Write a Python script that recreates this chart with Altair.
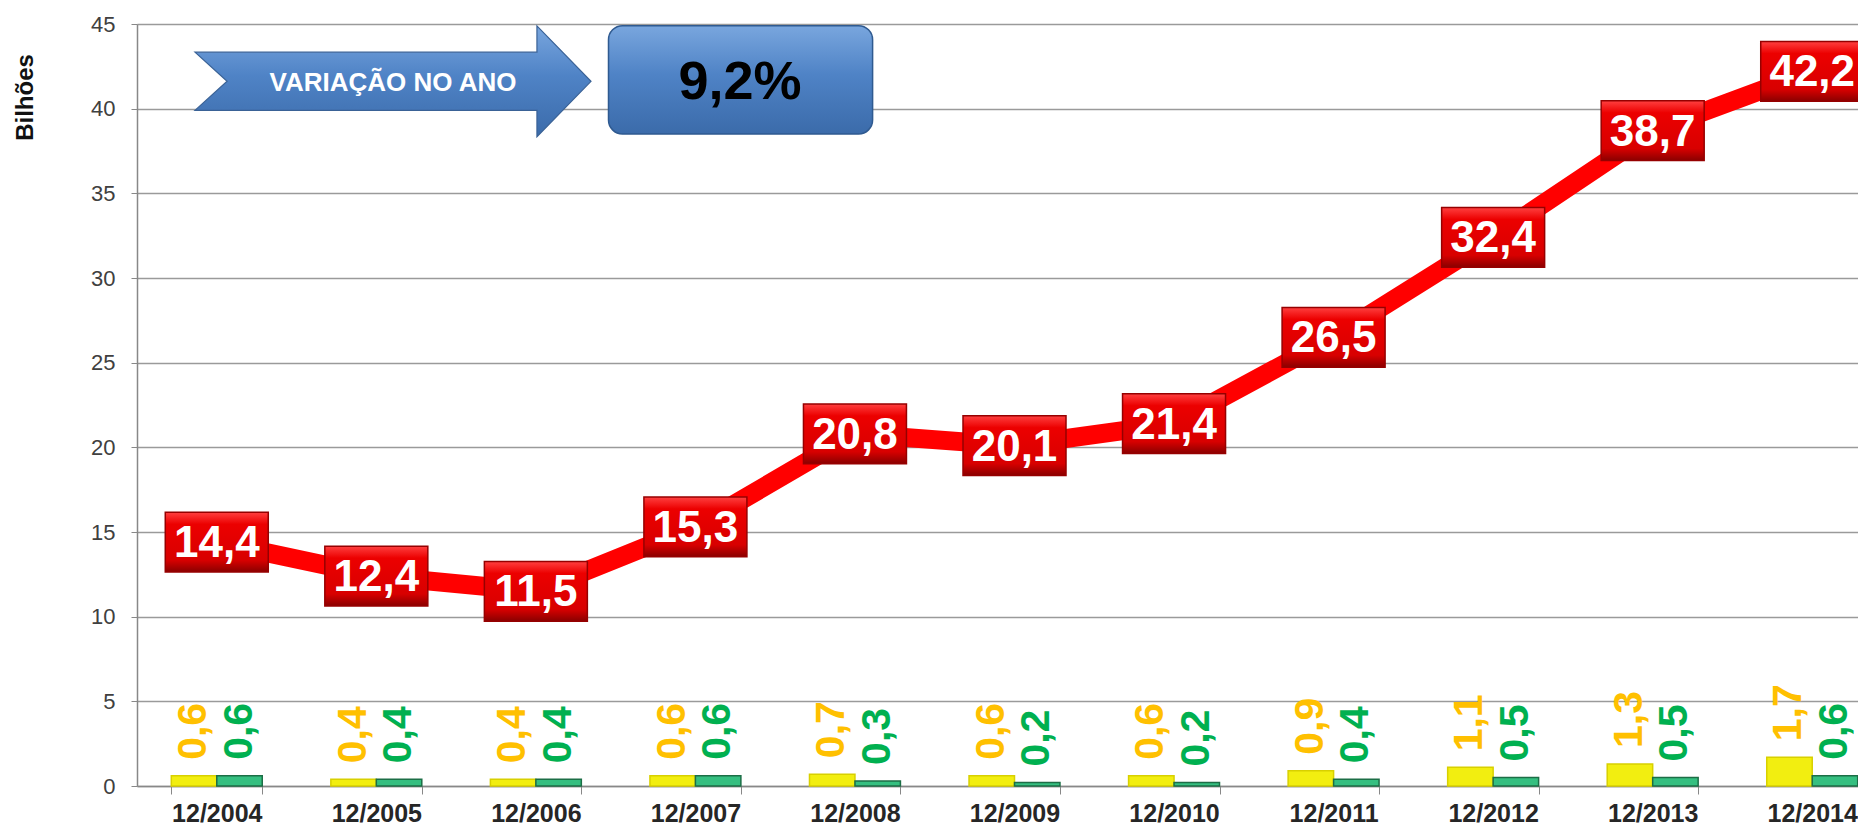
import altair as alt
import pandas as pd

# ---- data ----
categorias = ["12/2004", "12/2005", "12/2006", "12/2007", "12/2008", "12/2009",
              "12/2010", "12/2011", "12/2012", "12/2013", "12/2014"]
total = [14.4, 12.4, 11.5, 15.3, 20.8, 20.1, 21.4, 26.5, 32.4, 38.7, 42.2]
amarelo = [0.6, 0.4, 0.4, 0.6, 0.7, 0.6, 0.6, 0.9, 1.1, 1.3, 1.7]
verde = [0.6, 0.4, 0.4, 0.6, 0.3, 0.2, 0.2, 0.4, 0.5, 0.5, 0.6]
y_ticks = [0, 5, 10, 15, 20, 25, 30, 35, 40, 45]
seta_texto = ["VARIAÇÃO NO ANO"]
caixa_texto = ["9,2%"]

def br(v):
    return f"{v:.1f}".replace(".", ",")

df_line = pd.DataFrame({"cat": categorias, "v": total, "lbl": [br(v) for v in total]})
rows = []
for c, a, g in zip(categorias, amarelo, verde):
    rows.append({"cat": c, "serie": "a", "v": a, "lbl": br(a)})
    rows.append({"cat": c, "serie": "b", "v": g, "lbl": br(g)})
df_bar = pd.DataFrame(rows)

FONT = "Liberation Sans"
W, H = 1721, 762

xscale = alt.Scale(domain=categorias, range=[0, 1755], paddingInner=0.43, paddingOuter=0.215)
yscale = alt.Scale(domain=[0, 45], nice=False)

x_axis = alt.Axis(title=None, labelAngle=0, labelFontSize=25, labelFontWeight="bold",
                  labelColor="#262626", labelFont=FONT, tickBand="extent", tickSize=8,
                  tickColor="#888888", domainColor="#888888", domainWidth=1.5,
                  labelPadding=7, grid=False)
y_axis = alt.Axis(values=y_ticks, title="Bilhões", titleFontSize=24, titleFontWeight="bold",
                  titleFont=FONT, titleColor="#111111", titleAngle=270, titleX=-112, titleY=73,
                  titleAlign="center", titleBaseline="middle", labelFontSize=22,
                  labelColor="#404040", labelFont=FONT, tickSize=6, tickColor="#888888",
                  domainColor="#888888", domainWidth=1.5, gridColor="#9a9a9a",
                  gridWidth=1.3, labelPadding=16)

X = alt.X("cat:N", scale=xscale, axis=x_axis, sort=categorias)
Xc = alt.X("cat:N", scale=xscale, sort=categorias, bandPosition=0.5)

bars = alt.Chart(df_bar).mark_bar(strokeWidth=1.5).encode(
    x=X,
    xOffset=alt.XOffset("serie:N", scale=alt.Scale(paddingInner=0, paddingOuter=0)),
    y=alt.Y("v:Q", scale=yscale, axis=y_axis),
    fill=alt.Fill("serie:N", scale=alt.Scale(domain=["a", "b"], range=["#F2EE10", "#35BF80"]), legend=None),
    stroke=alt.Stroke("serie:N", scale=alt.Scale(domain=["a", "b"], range=["#D8D000", "#1C6E46"]), legend=None),
)

bar_lbl = alt.Chart(df_bar).mark_text(angle=270, align="left", baseline="middle", dx=16,
                                       fontSize=41, fontWeight="bold", font=FONT).encode(
    x=X,
    xOffset=alt.XOffset("serie:N"),
    y=alt.Y("v:Q", scale=yscale),
    text="lbl:N",
    color=alt.Color("serie:N", scale=alt.Scale(domain=["a", "b"], range=["#FFC000", "#00B050"]), legend=None),
)

blue_grad = alt.LinearGradient(gradient="linear", x1=0, x2=0, y1=0, y2=1, stops=[
    alt.GradientStop(color="#79A6DE", offset=0),
    alt.GradientStop(color="#4F83C6", offset=0.45),
    alt.GradientStop(color="#3B6BAA", offset=1)])

arrow_path = ("M-1,-0.147 L0.727,-0.147 L0.727,-0.28 L1,0 L0.727,0.28 L0.727,0.147 "
              "L-1,0.147 L-0.838,0 Z")
arrow = alt.Chart(pd.DataFrame({"t": seta_texto})).mark_point(
    shape=arrow_path, size=396 ** 2, filled=True, fill=blue_grad, stroke="#3A6296",
    strokeWidth=1.2, opacity=1).encode(x=alt.value(256), y=alt.value(57.3))
arrow_txt = alt.Chart(pd.DataFrame({"t": seta_texto})).mark_text(
    fontSize=26, fontWeight="bold", font=FONT, color="white", baseline="middle").encode(
    x=alt.value(256), y=alt.value(58.8), text="t:N")

box = alt.Chart(pd.DataFrame({"t": caixa_texto})).mark_rect(
    cornerRadius=14, fill=blue_grad, stroke="#2F5A90", strokeWidth=1.5).encode(
    x=alt.value(471.5), x2=alt.value(735.6), y=alt.value(1.7), y2=alt.value(110))
box_txt = alt.Chart(pd.DataFrame({"t": caixa_texto})).mark_text(
    fontSize=54, fontWeight="bold", font=FONT, color="black", baseline="middle").encode(
    x=alt.value(603), y=alt.value(58.5), text="t:N")

line = alt.Chart(df_line).mark_line(color="#FF0000", strokeWidth=19, strokeJoin="round").encode(
    x=Xc, y=alt.Y("v:Q", scale=yscale))

red_grad = alt.LinearGradient(gradient="linear", x1=0, x2=0, y1=0, y2=1, stops=[
    alt.GradientStop(color="#FF4040", offset=0),
    alt.GradientStop(color="#EC0000", offset=0.2),
    alt.GradientStop(color="#D80000", offset=0.8),
    alt.GradientStop(color="#8A0000", offset=1)])
box_path = "M-1,-0.58 L1,-0.58 L1,0.58 L-1,0.58 Z"
red_box = alt.Chart(df_line).mark_point(
    shape=box_path, size=103 ** 2, filled=True, fill=red_grad, stroke="#960000",
    strokeWidth=1.5, opacity=1).encode(x=Xc, y=alt.Y("v:Q", scale=yscale))
red_txt = alt.Chart(df_line).mark_text(
    fontSize=44, fontWeight="bold", font=FONT, color="white", baseline="middle", dy=2).encode(
    x=Xc, y=alt.Y("v:Q", scale=yscale), text="lbl:N")

chart = alt.layer(bars, bar_lbl, arrow, arrow_txt, box, box_txt, line, red_box, red_txt).properties(
    width=W, height=H,
    padding={"left": 129, "top": 16, "right": 0, "bottom": 42},
    autosize=alt.AutoSizeParams(type="none"),
).configure_view(stroke=None).configure(background="white")

chart.save("out.html", embed_options={"renderer": "svg", "actions": False})
